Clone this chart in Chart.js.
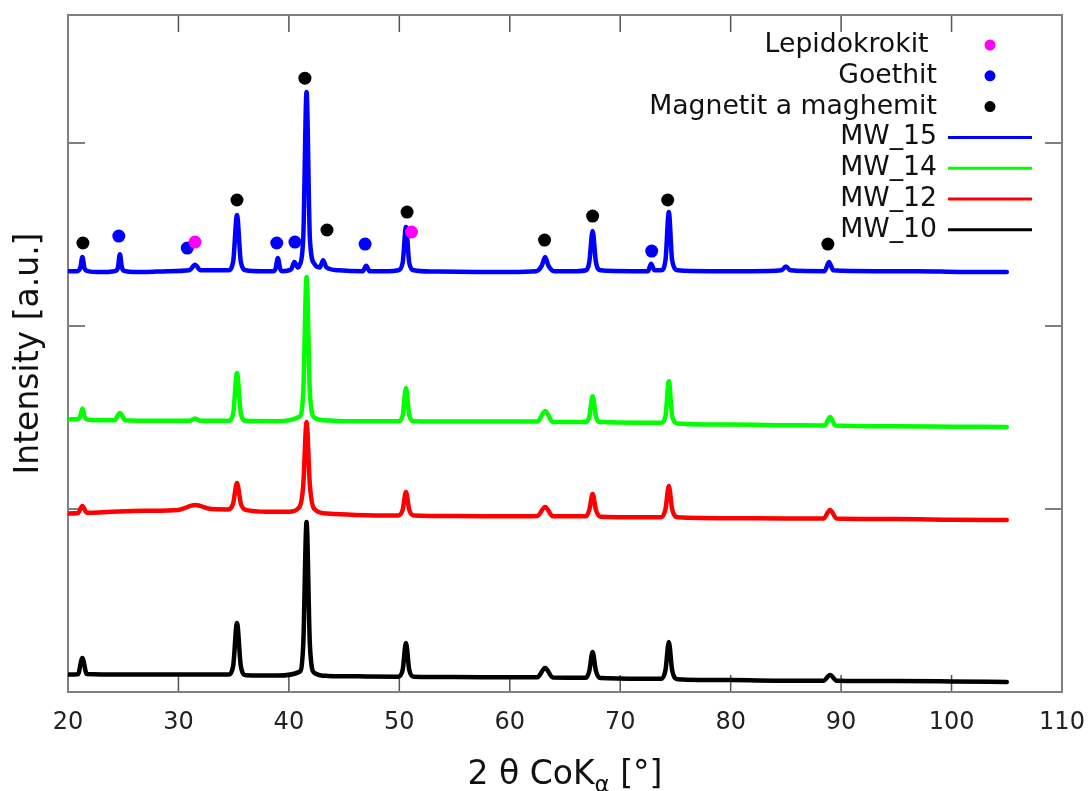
<!DOCTYPE html>
<html>
<head>
<meta charset="utf-8">
<script src="https://cdn.jsdelivr.net/npm/chart.js@4"></script>
<style>
  html, body { margin: 0; padding: 0; background: #fff; }
</style>
</head>
<body>
<canvas id="myChart" width="1090" height="791"></canvas>
<script>
const FONT = "'DejaVu Sans', sans-serif";

// axis ticks
const xTicks = [20, 30, 40, 50, 60, 70, 80, 90, 100, 110];
const yTicks = [0, 1000, 2000, 3000];

// diffraction patterns, [2theta, intensity] (curves stacked with an offset)
const mw15 = [
    [20, 2300], [20.8, 2300], [21.1, 2315], [21.3, 2377], [21.5, 2315], [21.8, 2300],
    [23, 2295], [24.2, 2300], [24.5, 2315], [24.7, 2393], [24.9, 2315], [25.2, 2300],
    [27, 2295], [29, 2300], [31.0, 2305], [31.5, 2335], [32.0, 2305], [33.5, 2305],
    [34.5, 2305], [34.95, 2350], [35.3, 2607], [35.65, 2350], [36.1, 2305],
    [37.5, 2300], [38.6, 2300], [38.8, 2315], [39.0, 2372], [39.2, 2315], [39.4, 2300],
    [40.2, 2310], [40.5, 2350], [40.8, 2320],
    [40.95, 2330], [41.3, 2480], [41.6, 3279], [41.9, 2480], [42.3, 2340],
    [42.8, 2320], [43.1, 2360], [43.4, 2320], [44.5, 2305],
    [46.7, 2300], [47.0, 2330], [47.3, 2300], [49, 2300],
    [49.9, 2305], [50.3, 2345], [50.6, 2541], [50.9, 2345], [51.3, 2305],
    [53, 2298], [57, 2296], [60, 2296],
    [62.4, 2300], [62.9, 2330], [63.2, 2377], [63.5, 2330], [64.0, 2300], [66, 2300],
    [66.9, 2305], [67.2, 2350], [67.5, 2519], [67.8, 2350], [68.2, 2305], [71, 2300],
    [72.5, 2300], [72.8, 2340], [73.1, 2305],
    [73.7, 2305], [74.1, 2360], [74.4, 2623], [74.7, 2360], [75.2, 2305],
    [78, 2300], [82, 2300], [84.6, 2305], [85, 2325], [85.4, 2305],
    [88.5, 2300], [88.9, 2350], [89.3, 2305],
    [93, 2300], [97, 2300], [101, 2295], [105, 2295]
];
const mw14 = [
    [20, 1490], [20.8, 1490], [21.1, 1505], [21.3, 1550], [21.5, 1505], [21.8, 1488],
    [24.2, 1485], [24.7, 1525], [25.2, 1485], [28, 1482], [31, 1482], [31.5, 1495], [32, 1482],
    [34.5, 1482], [34.95, 1520], [35.3, 1743], [35.65, 1520], [36.1, 1482],
    [39, 1480], [40.95, 1505], [41.3, 1640], [41.6, 2268], [41.9, 1640], [42.3, 1500],
    [43.2, 1485], [45, 1480], [48, 1480],
    [49.9, 1480], [50.3, 1510], [50.6, 1661], [50.9, 1510], [51.3, 1480],
    [55, 1478], [60, 1478], [62.5, 1478], [63.2, 1536], [63.9, 1476],
    [66.9, 1476], [67.2, 1505], [67.5, 1617], [67.8, 1505], [68.2, 1475], [72, 1472],
    [73.7, 1472], [74.1, 1510], [74.4, 1699], [74.7, 1510], [75.2, 1468],
    [80, 1462], [85, 1458], [88.5, 1456], [89, 1503], [89.5, 1456],
    [95, 1452], [100, 1450], [105, 1448]
];
const mw12 = [
    [20, 975], [20.9, 978], [21.3, 1016], [21.7, 980], [24, 985], [27, 990],
    [30, 995], [31.5, 1022], [33, 1000],
    [34.5, 998], [34.95, 1030], [35.3, 1142], [35.65, 1030], [36.1, 995],
    [38, 985], [40, 985], [40.95, 1010], [41.3, 1130], [41.6, 1475], [41.9, 1130], [42.3, 1000],
    [43.5, 975], [46, 968], [49.9, 965], [50.3, 995], [50.6, 1093], [50.9, 995], [51.3, 965],
    [55, 962], [60, 960], [62.5, 962], [63.2, 1011], [63.9, 960],
    [66.9, 960], [67.2, 995], [67.5, 1082], [67.8, 995], [68.2, 958], [72, 955],
    [73.7, 955], [74.1, 1000], [74.4, 1126], [74.7, 1000], [75.2, 955],
    [80, 950], [85, 948], [88.4, 948], [89, 995], [89.6, 948],
    [95, 945], [100, 942], [105, 940]
];
const mw10 = [
    [20, 95], [20.9, 97], [21.3, 186], [21.7, 98], [25, 95], [30, 95],
    [34.5, 95], [34.95, 140], [35.3, 377], [35.65, 140], [36.1, 92],
    [39, 90], [40.95, 110], [41.3, 260], [41.6, 929], [41.9, 260], [42.3, 105],
    [43.5, 88], [47, 85], [49.9, 84], [50.3, 120], [50.6, 268], [50.9, 120], [51.3, 84],
    [55, 82], [60, 80], [62.5, 80], [63.2, 131], [63.9, 79],
    [66.9, 78], [67.2, 115], [67.5, 219], [67.8, 115], [68.2, 76], [72, 72],
    [73.7, 72], [74.1, 120], [74.4, 273], [74.7, 120], [75.2, 70],
    [80, 65], [85, 62], [88.4, 62], [89, 93], [89.6, 62],
    [95, 60], [100, 58], [105, 55]
];

// phase markers above the MW_15 pattern
const lepidokrokit = [[31.5, 2459], [51.1, 2514]];
const goethit = [[24.6, 2492], [30.8, 2426], [38.9, 2454], [40.55, 2459], [46.9, 2448], [72.85, 2410]];
const magnetit = [[21.35, 2454], [35.3, 2689], [41.45, 3355], [43.45, 2525], [50.7, 2623],
    [63.15, 2470], [67.5, 2601], [74.3, 2689], [88.8, 2448]];

const toXY = arr => arr.map(p => ({x: p[0], y: p[1]}));

function markerSet(label, color, pts) {
    return {
        label: label,
        data: toXY(pts),
        showLine: false,
        pointRadius: 6.5,
        pointBackgroundColor: color,
        pointBorderColor: color,
        pointBorderWidth: 0,
        backgroundColor: color,
        borderColor: color
    };
}

function curveSet(label, color, pts) {
    return {
        label: label,
        data: toXY(pts),
        borderColor: color,
        backgroundColor: color,
        borderWidth: 4.5,
        pointRadius: 0,
        cubicInterpolationMode: 'monotone',
        borderJoinStyle: 'round',
        borderCapStyle: 'round'
    };
}

// frame with inward tick marks on all four sides
const framePlugin = {
    id: 'frame',
    beforeDatasetsDraw(chart) {
        const {ctx, chartArea: a, scales} = chart;
        const len = 17;
        ctx.save();
        ctx.strokeStyle = '#555';
        ctx.lineWidth = 1.5;
        ctx.beginPath();
        xTicks.forEach(v => {
            const px = scales.x.getPixelForValue(v);
            ctx.moveTo(px, a.bottom); ctx.lineTo(px, a.bottom - len);
            ctx.moveTo(px, a.top); ctx.lineTo(px, a.top + len);
        });
        yTicks.forEach(v => {
            const py = scales.y.getPixelForValue(v);
            ctx.moveTo(a.left, py); ctx.lineTo(a.left + len, py);
            ctx.moveTo(a.right, py); ctx.lineTo(a.right - len, py);
        });
        ctx.stroke();
        ctx.strokeStyle = '#808080';
        ctx.lineWidth = 2;
        ctx.strokeRect(a.left, a.top, a.right - a.left, a.bottom - a.top);
        ctx.restore();
    }
};

// x axis title with a subscript alpha
const xTitlePlugin = {
    id: 'xTitle',
    afterDraw(chart) {
        const {ctx, chartArea: a} = chart;
        const parts = [['2 θ CoK', 33, 0], ['α', 23, 8], [' [°]', 33, 0]];
        ctx.save();
        ctx.fillStyle = '#111';
        ctx.textBaseline = 'alphabetic';
        let total = 0;
        parts.forEach(p => { ctx.font = p[1] + 'px ' + FONT; total += ctx.measureText(p[0]).width; });
        let x = (a.left + a.right) / 2 - total / 2;
        const base = 784;
        parts.forEach(p => {
            ctx.font = p[1] + 'px ' + FONT;
            ctx.fillText(p[0], x, base + p[2]);
            x += ctx.measureText(p[0]).width;
        });
        ctx.restore();
    }
};

// key in the upper right corner: right-aligned text, symbol after it
const keyPlugin = {
    id: 'key',
    afterDraw(chart) {
        const ctx = chart.ctx;
        const textRight = 937, top = 45, step = 30.8;
        ctx.save();
        ctx.font = '26.7px ' + FONT;
        ctx.textAlign = 'right';
        ctx.textBaseline = 'middle';
        chart.data.datasets.forEach((ds, i) => {
            const y = top + i * step;
            ctx.fillStyle = '#111';
            ctx.fillText(ds.label, textRight, y);
            if (ds.showLine === false) {
                ctx.fillStyle = ds.pointBackgroundColor;
                ctx.beginPath();
                ctx.arc(990, y, 5.5, 0, Math.PI * 2);
                ctx.fill();
            } else {
                ctx.strokeStyle = ds.borderColor;
                ctx.lineWidth = 3;
                ctx.beginPath();
                ctx.moveTo(948, y);
                ctx.lineTo(1032, y);
                ctx.stroke();
            }
        });
        ctx.restore();
    }
};

let ctx = document.getElementById('myChart').getContext('2d');
let myChart = new Chart(ctx, {
    type: 'line',
    data: {
        datasets: [
            markerSet('Lepidokrokit ', '#ff00ff', lepidokrokit),
            markerSet('Goethit', '#0000ff', goethit),
            markerSet('Magnetit a maghemit', '#000000', magnetit),
            curveSet('MW_15', '#0000ff', mw15),
            curveSet('MW_14', '#00ff00', mw14),
            curveSet('MW_12', '#ff0000', mw12),
            curveSet('MW_10', '#000000', mw10)
        ]
    },
    options: {
        responsive: false,
        animation: false,
        layout: {padding: {top: 15, right: 28, left: 0, bottom: 0}},
        plugins: {
            legend: {display: false},
            tooltip: {enabled: false}
        },
        scales: {
            x: {
                type: 'linear',
                min: 20,
                max: 110,
                afterFit: s => {
                    s.height = 99;
                    // end labels may overhang; keep the plot edges fixed
                    s.paddingLeft = 0;
                    s.paddingRight = 0;
                },
                afterBuildTicks: s => { s.ticks = xTicks.map(v => ({value: v})); },
                grid: {display: false},
                border: {display: false},
                ticks: {
                    font: {family: FONT, size: 24},
                    color: '#222',
                    padding: 8,
                    maxRotation: 0,
                    autoSkip: false
                }
            },
            y: {
                type: 'linear',
                min: 0,
                max: 3700,
                afterFit: s => { s.width = 68; },
                afterBuildTicks: s => { s.ticks = yTicks.map(v => ({value: v})); },
                grid: {display: false},
                border: {display: false},
                ticks: {display: false},
                title: {
                    display: true,
                    text: 'Intensity [a.u.]',
                    font: {family: FONT, size: 33},
                    color: '#111',
                    padding: {top: 10}
                }
            }
        }
    },
    plugins: [framePlugin, xTitlePlugin, keyPlugin]
});
</script>
</body>
</html>
